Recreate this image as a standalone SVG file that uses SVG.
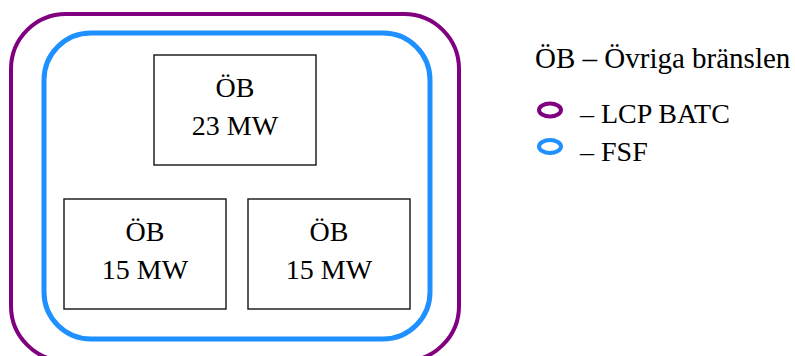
<svg xmlns="http://www.w3.org/2000/svg" width="795" height="356" viewBox="0 0 795 356">
<style>
text{font-family:"Liberation Serif","Times New Roman",serif;font-size:28px;fill:#000}
.c{text-anchor:middle}
.box{fill:#fff;stroke:#222;stroke-width:1.5}
.lcp{fill:none;stroke:#800080;stroke-width:4}
.fsf{fill:none;stroke:#1E90FF;stroke-width:5}
</style>
<rect width="795" height="356" fill="#fff"/>
<g id="lcp-batc"><rect class="lcp" x="11" y="14" width="448" height="347" rx="55" ry="55"/></g>
<g id="fsf"><rect class="fsf" x="44" y="33" width="386" height="306" rx="47" ry="47"/></g>
<g id="connectors"></g>
<g id="ob23"><rect class="box" x="154" y="55" width="162" height="110"/><text class="c" x="235" y="97">ÖB</text><text class="c" x="235" y="135">23 MW</text></g>
<g id="ob15a"><rect class="box" x="64" y="199" width="162" height="110"/><text class="c" x="145" y="241">ÖB</text><text class="c" x="145" y="279">15 MW</text></g>
<g id="ob15b"><rect class="box" x="248" y="199" width="162" height="110"/><text class="c" x="329" y="241">ÖB</text><text class="c" x="329" y="279">15 MW</text></g>
<g id="legend">
<text x="535" y="68" style="font-size:29px">ÖB – Övriga bränslen</text>
<ellipse cx="550" cy="110" rx="11" ry="6.5" fill="none" stroke="#800080" stroke-width="4"/>
<text x="580" y="123">– LCP BATC</text>
<ellipse cx="550" cy="146.5" rx="11" ry="6.5" fill="none" stroke="#1E90FF" stroke-width="4"/>
<text x="580" y="161">– FSF</text>
</g>
</svg>
